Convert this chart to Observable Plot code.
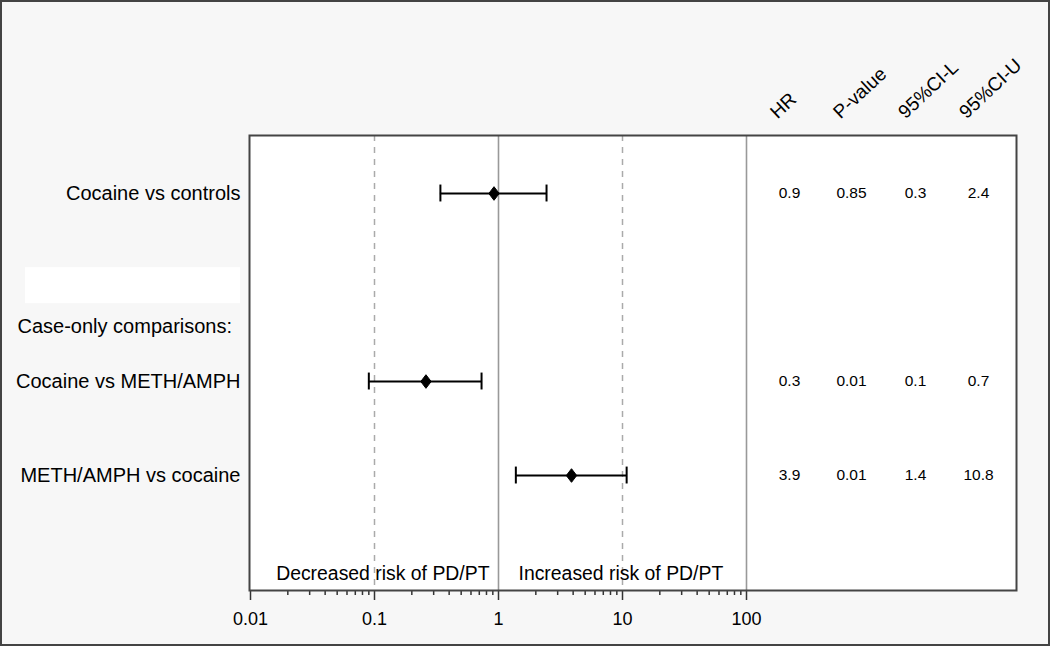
<!DOCTYPE html>
<html>
<head>
<meta charset="utf-8">
<script src="https://cdn.jsdelivr.net/npm/d3@7"></script>
<script src="https://cdn.jsdelivr.net/npm/@observablehq/plot@0.6"></script>
<style>
  html, body { margin: 0; padding: 0; background: #f7f7f7; }
  #chart svg { display: block; outline: 2px solid #444; outline-offset: -2px; }
</style>
</head>
<body>
<div id="chart"></div>
<script>
// ---- data ----
const rowLabels = ["Cocaine vs controls", "Cocaine vs METH/AMPH", "METH/AMPH vs cocaine"];
const rowPos = [0, 2, 3];
const hr = [0.92, 0.26, 3.88];
const ciLow = [0.34, 0.09, 1.38];
const ciHigh = [2.44, 0.73, 10.8];
const hrText = ["0.9", "0.3", "3.9"];
const pText = ["0.85", "0.01", "0.01"];
const lowText = ["0.3", "0.1", "1.4"];
const highText = ["2.4", "0.7", "10.8"];
const headers = ["HR", "P-value", "95%CI-L", "95%CI-U"];
const sectionLabel = "Case-only comparisons:";
const leftNote = "Decreased risk of PD/PT";
const rightNote = "Increased risk of PD/PT";
const majorTicks = [0.01, 0.1, 1, 10, 100];
const minorTicks = [0.01, 0.1, 1, 10].flatMap(d => [2, 3, 4, 5, 6, 7, 8, 9].map(k => +(k * d).toPrecision(3)));
const solidRefs = [1, 100];
const dashedRefs = [0.1, 10];

const rows = rowLabels.map((label, i) => ({
  label, pos: rowPos[i], hr: hr[i], lo: ciLow[i], hi: ciHigh[i],
  hrT: hrText[i], pT: pText[i], loT: lowText[i], hiT: highText[i]
}));

const font = "'Liberation Sans', Arial, sans-serif";
const tableCols = [
  {key: "hrT", dx: -227, hdx: -239},
  {key: "pT", dx: -165, hdx: -176},
  {key: "loT", dx: -101, hdx: -111},
  {key: "hiT", dx: -38, hdx: -50}
];

// diamond a little taller than wide
const diamond = {
  draw(context) {
    const w = 5.2, h = 6.8;
    context.moveTo(0, -h);
    context.lineTo(w, 0);
    context.lineTo(0, h);
    context.lineTo(-w, 0);
    context.closePath();
  }
};

const plot = Plot.plot({
  width: 1050,
  height: 646,
  marginLeft: 249,
  marginRight: 34,
  marginTop: 135,
  marginBottom: 56,
  style: {background: "#f7f7f7", fontFamily: font, color: "black", overflow: "visible"},
  x: {type: "log", domain: [0.01, 100], range: [250, 746]},
  y: {type: "linear", domain: [-0.617, 4.223], range: [135, 590]},
  marks: [
    Plot.frame({fill: "white", stroke: null}),
    // blank white label box on the left
    (index, scales) => {
      const r = document.createElementNS("http://www.w3.org/2000/svg", "rect");
      const yc = scales.y(0.98);
      r.setAttribute("x", 25);
      r.setAttribute("y", yc - 18);
      r.setAttribute("width", 215);
      r.setAttribute("height", 36);
      r.setAttribute("fill", "white");
      return r;
    },
    Plot.ruleX(dashedRefs, {stroke: "#aaa", strokeWidth: 1.5, strokeDasharray: "6,6"}),
    Plot.ruleX(solidRefs, {stroke: "#999", strokeWidth: 1.6}),
    // CI whiskers
    Plot.ruleY(rows, {y: "pos", x1: "lo", x2: "hi", stroke: "black", strokeWidth: 2}),
    Plot.ruleX(rows, {x: "lo", y1: d => d.pos - 0.09, y2: d => d.pos + 0.09, stroke: "black", strokeWidth: 2}),
    Plot.ruleX(rows, {x: "hi", y1: d => d.pos - 0.09, y2: d => d.pos + 0.09, stroke: "black", strokeWidth: 2}),
    Plot.dot(rows, {x: "hr", y: "pos", symbol: diamond, fill: "black", stroke: "black", strokeWidth: 1}),
    // row labels
    Plot.axisY({ticks: rowPos, tickFormat: p => rowLabels[rowPos.indexOf(p)], tickSize: 0, tickPadding: 9, fontSize: 20, label: null}),
    Plot.text([sectionLabel], {frameAnchor: "left", y: () => 1.42, text: d => d, textAnchor: "start", dx: -232, fontSize: 20, fill: "black"}),
    // notes
    Plot.text([leftNote], {x: () => 1, y: () => 4, text: d => d, textAnchor: "end", dx: -9, dy: 4, fontSize: 19.4, fill: "black"}),
    Plot.text([rightNote], {x: () => 1, y: () => 4, text: d => d, textAnchor: "start", dx: 20, dy: 4, fontSize: 19.4, fill: "black"}),
    // table values & headers
    ...tableCols.map(c => Plot.text(rows, {frameAnchor: "right", y: "pos", text: c.key, textAnchor: "middle", dx: c.dx, fontSize: 15.5, fill: "black"})),
    ...tableCols.map((c, i) => Plot.text([headers[i]], {frameAnchor: "top-right", text: d => d, textAnchor: "start", lineAnchor: "bottom", rotate: -43, dx: c.hdx, dy: -16, fontSize: 19, fill: "black"})),
    // x axis
    Plot.axisX({ticks: minorTicks, tickSize: 5, tickFormat: () => "", stroke: "#333", strokeWidth: 1.5, label: null}),
    Plot.axisX({ticks: majorTicks, tickSize: 10, tickPadding: 12, tickFormat: d => String(d), fontSize: 18, stroke: "#333", strokeWidth: 1.5, label: null}),
    Plot.frame({stroke: "#444", strokeWidth: 2})
  ]
});

document.getElementById("chart").append(plot);
</script>
</body>
</html>
